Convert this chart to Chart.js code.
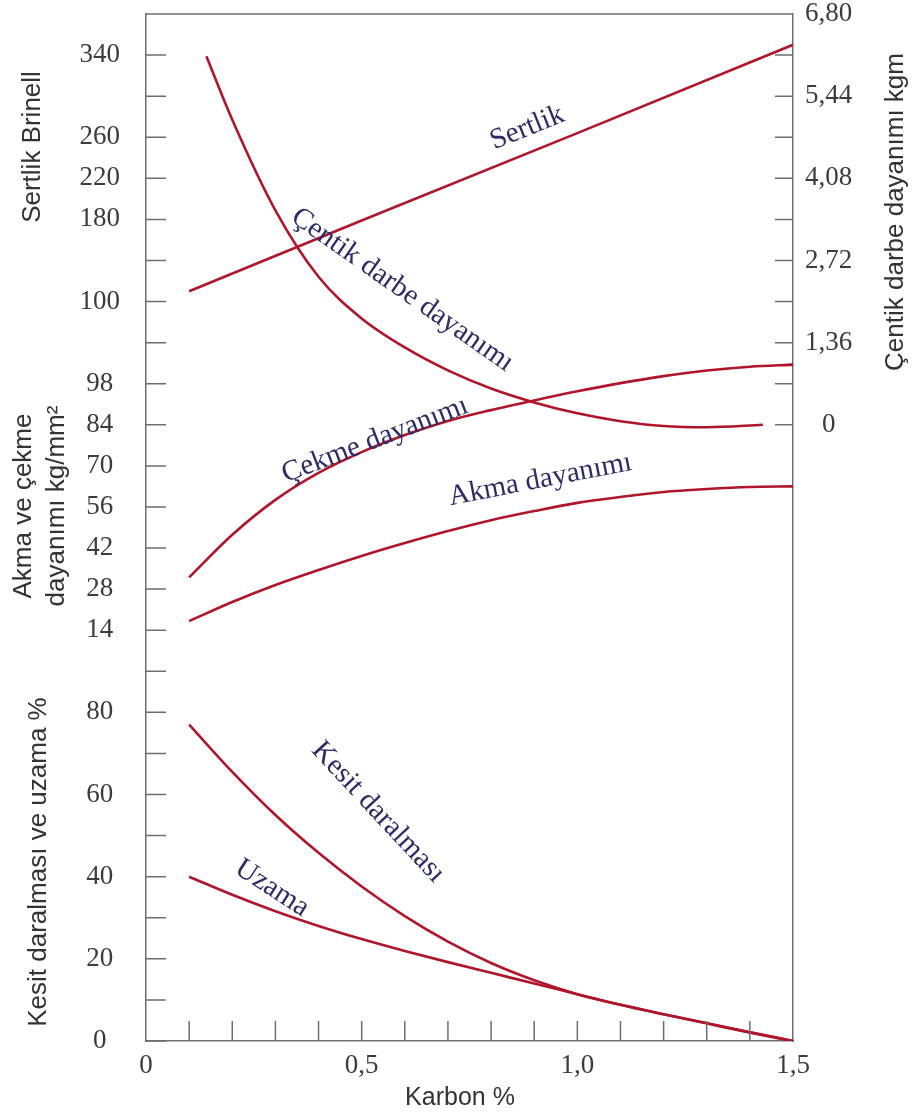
<!DOCTYPE html>
<html><head><meta charset="utf-8">
<script src="https://cdn.jsdelivr.net/npm/chart.js@4.4.1/dist/chart.umd.min.js"></script>
<style>html,body{margin:0;padding:0;background:#fff}canvas{display:block}</style>
</head><body>
<canvas id="c" width="913" height="1119"></canvas>
<script>
// ---------- tick labels ----------
const xTickValues = [0, 0.5, 1.0, 1.5];
const xTickLabels = ['0', '0,5', '1,0', '1,5'];
const xMinorTicks = [0.1, 0.2, 0.3, 0.4, 0.5, 0.6, 0.7, 0.8, 0.9, 1.0, 1.1, 1.2, 1.3, 1.4];
// left axis: one slot per tick mark, from bottom (slot 0) to top (slot 24)
const leftTickLabels = ['0', '', '20', '', '40', '', '60', '', '80', '',
  '14', '28', '42', '56', '70', '84', '98', '', '100', '', '180', '220', '260', '', '340'];
// right axis slots and labels
const rightTickSlots = [15, 16, 17, 18, 19, 20, 21, 22, 23, 24, 25];
const rightTickLabels = ['0', '', '1,36', '', '2,72', '', '4,08', '', '5,44', '', '6,80'];

// ---------- series (Karbon %) ----------
const hardnessC = [0.1, 0.5, 1.0, 1.5];
const hardnessHB = [110, 179, 264, 350];                  // Sertlik Brinell

const impactC = [0.14, 0.2, 0.3, 0.4, 0.5, 0.6, 0.7, 0.8, 0.9, 1.0, 1.1, 1.2, 1.3, 1.43];
const impactKgm = [6.10, 5.05, 3.55, 2.45, 1.76, 1.28, 0.90, 0.60, 0.37, 0.19, 0.06, -0.02, -0.04, 0.0];

const carbon = [0.1, 0.2, 0.3, 0.4, 0.5, 0.6, 0.7, 0.8, 0.9, 1.0, 1.1, 1.2, 1.3, 1.4, 1.5];
const tensile = [32, 46.5, 58.4, 67.6, 74.7, 80.5, 85.3, 89, 92.3, 95.4, 98.2, 100.6, 102.5, 103.8, 104.5]; // Çekme dayanımı kg/mm²
const yieldStr = [17.1, 23.6, 29.4, 34.5, 39.3, 43.7, 47.8, 51.5, 54.6, 57.4, 59.4, 61.1, 62.1, 62.8, 63.0]; // Akma dayanımı kg/mm²
const reduction = [77, 65.5, 55, 45.8, 37.6, 30.4, 24.2, 19, 14.8, 11.4, 8.8, 6.5, 4.3, 2.1, 0];      // Kesit daralması %
const elongation = [40, 35.6, 31.6, 28.0, 24.8, 21.9, 19.2, 16.6, 14.0, 11.4, 8.8, 6.5, 4.3, 2.1, 0];   // Uzama %

// ---------- curve labels (anchored in data units) ----------
const curveLabels = [
  {text: 'Sertlik', x: 0.884, axis: 'yHard', y: 269, angle: -22},
  {text: 'Çentik darbe dayanımı', x: 0.594, axis: 'yImp', y: 2.23, angle: 35},
  {text: 'Çekme dayanımı', x: 0.531, axis: 'yStr', y: 78.8, angle: -21},
  {text: 'Akma dayanımı', x: 0.914, axis: 'yStr', y: 65.2, angle: -11},
  {text: 'Kesit daralması', x: 0.538, axis: 'yPct', y: 55.7, angle: 47},
  {text: 'Uzama', x: 0.292, axis: 'yPct', y: 37.2, angle: 33}
];

const RED = '#b0162b';
const AXIS = '#6e6e6e';
const TICKTXT = '#3c3c3c';
const SERIF = '"Liberation Serif", "Times New Roman", serif';
const SANS = '"Liberation Sans", Arial, sans-serif';

function pts(xs, ys) { return xs.map((x, i) => ({x: x, y: ys[i]})); }

function ds(label, xs, ys, axis, smooth) {
  return {
    label: label, data: pts(xs, ys), yAxisID: axis,
    borderColor: RED, borderWidth: 2.6, pointRadius: 0, fill: false,
    tension: smooth ? 0.4 : 0, cubicInterpolationMode: smooth ? 'monotone' : 'default'
  };
}

function noPadY(sc, w) { sc.width = w; sc.paddingTop = 0; sc.paddingBottom = 0; }

const decor = {
  id: 'decor',
  afterDraw(chart) {
    const ctx = chart.ctx, a = chart.chartArea, s = chart.scales;
    ctx.save();
    // top frame line
    ctx.strokeStyle = AXIS; ctx.lineWidth = 1.5;
    ctx.beginPath(); ctx.moveTo(a.left, a.top); ctx.lineTo(a.right, a.top); ctx.stroke();
    // inward tick marks
    ctx.beginPath();
    s.yLeft.ticks.forEach(t => { const y = s.yLeft.getPixelForValue(t.value); ctx.moveTo(a.left, y); ctx.lineTo(a.left + 20, y); });
    rightTickSlots.forEach(v => { if (v >= 25) return; const y = s.yRight.getPixelForValue(v); ctx.moveTo(a.right, y); ctx.lineTo(a.right - 18, y); });
    xMinorTicks.forEach(v => { const x = s.x.getPixelForValue(v); ctx.moveTo(x, a.bottom); ctx.lineTo(x, a.bottom - 20); });
    ctx.stroke();
    // curve labels
    ctx.fillStyle = '#2c2c66';
    ctx.font = '29px ' + SERIF;
    ctx.textAlign = 'center'; ctx.textBaseline = 'middle';
    curveLabels.forEach(l => {
      const px = s.x.getPixelForValue(l.x), py = s[l.axis].getPixelForValue(l.y);
      ctx.save(); ctx.translate(px, py); ctx.rotate(l.angle * Math.PI / 180);
      ctx.fillText(l.text, 0, 0); ctx.restore();
    });
    // axis titles
    ctx.fillStyle = '#333';
    ctx.font = '26px ' + SANS;
    const vtext = (t, x, y) => { ctx.save(); ctx.translate(x, y); ctx.rotate(-Math.PI / 2); ctx.fillText(t, 0, 0); ctx.restore(); };
    vtext('Sertlik Brinell', 33, 147);
    vtext('Akma ve çekme', 24, 506);
    vtext('dayanımı kg/mm²', 57, 506);
    vtext('Kesit daralması ve uzama %', 39, 862);
    vtext('Çentik darbe dayanımı kgm', 896, 212);
    ctx.font = '25px ' + SANS;
    ctx.fillText('Karbon %', 460, 1098);
    ctx.restore();
  }
};

new Chart(document.getElementById('c'), {
  type: 'line',
  data: {
    datasets: [
      ds('Sertlik', hardnessC, hardnessHB, 'yHard', false),
      ds('Çentik darbe dayanımı', impactC, impactKgm, 'yImp', true),
      ds('Çekme dayanımı', carbon, tensile, 'yStr', true),
      ds('Akma dayanımı', carbon, yieldStr, 'yStr', true),
      ds('Kesit daralması', carbon, reduction, 'yPct', true),
      ds('Uzama', carbon, elongation, 'yPct', true)
    ]
  },
  options: {
    responsive: false, animation: false, devicePixelRatio: 1,
    layout: {padding: {top: 14, left: 0, right: 0, bottom: 0}},
    plugins: {legend: {display: false}, tooltip: {enabled: false}},
    scales: {
      x: {
        type: 'linear', min: 0, max: 1.5, position: 'bottom',
        afterBuildTicks: sc => { sc.ticks = xTickValues.map(v => ({value: v})); },
        afterFit: sc => { sc.height = 78; sc.paddingLeft = 0; sc.paddingRight = 0; },
        grid: {display: false, drawTicks: false},
        border: {display: true, color: AXIS, width: 1.5},
        ticks: {autoSkip: false, maxRotation: 0, padding: 9, color: TICKTXT,
          font: {family: SERIF, size: 27}, callback: (v, i) => xTickLabels[i]}
      },
      yLeft: {
        type: 'linear', min: 0, max: 25, position: 'left',
        afterBuildTicks: sc => { sc.ticks = leftTickLabels.map((t, i) => ({value: i})); },
        afterFit: sc => noPadY(sc, 146),
        grid: {display: false, drawTicks: false},
        border: {display: true, color: AXIS, width: 1.5},
        ticks: {autoSkip: false, crossAlign: 'center', padding: 26, color: TICKTXT,
          font: {family: SERIF, size: 27}, callback: (v, i) => leftTickLabels[i]}
      },
      yRight: {
        type: 'linear', min: 0, max: 25, position: 'right',
        afterBuildTicks: sc => { sc.ticks = rightTickSlots.map(v => ({value: v})); },
        afterFit: sc => noPadY(sc, 120),
        grid: {display: false, drawTicks: false},
        border: {display: true, color: AXIS, width: 1.5},
        ticks: {autoSkip: false, crossAlign: 'center', padding: 12, color: TICKTXT,
          font: {family: SERIF, size: 27}, callback: (v, i) => rightTickLabels[i]}
      },
      yHard: {type: 'linear', display: false, min: -620, max: 380},
      yStr: {type: 'linear', display: false, min: -126, max: 224},
      yPct: {type: 'linear', display: false, min: 0, max: 250},
      yImp: {type: 'linear', display: false, min: -10.2, max: 6.8}
    }
  },
  plugins: [decor]
});
</script>
</body></html>
